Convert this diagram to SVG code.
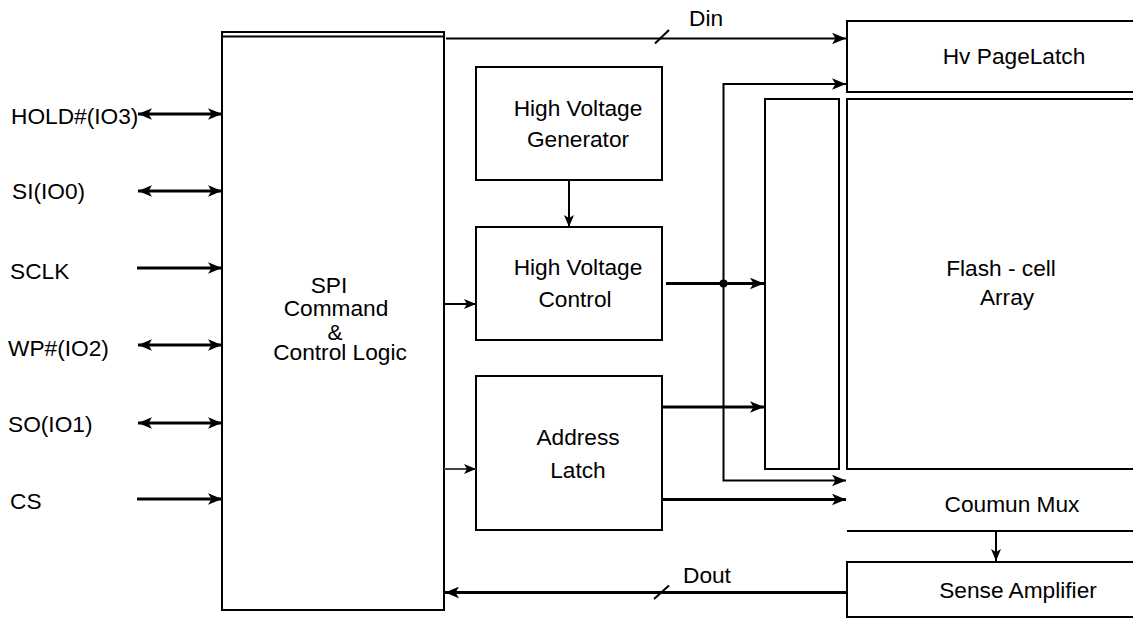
<svg xmlns="http://www.w3.org/2000/svg" width="1133" height="619" viewBox="0 0 1133 619">
<style>
text{font-family:"Liberation Sans",Arial,sans-serif;font-size:22.7px;fill:#000}
.box{fill:none;stroke:#000;stroke-width:2}
.ln{fill:none;stroke:#000;stroke-width:2}
.thk{fill:none;stroke:#000;stroke-width:3}
.gry{fill:none;stroke:#444;stroke-width:2}
</style>
<defs>
<marker id="arr" viewBox="0 0 12 10" refX="12" refY="5" markerWidth="14" markerHeight="12" orient="auto-start-reverse" markerUnits="userSpaceOnUse">
<path d="M0,0 L12,5 L0,10 L3,5 Z" fill="#000"/>
</marker>
<marker id="arrs" viewBox="0 0 12 10" refX="12" refY="5" markerWidth="12" markerHeight="10" orient="auto-start-reverse" markerUnits="userSpaceOnUse">
<path d="M0,0 L12,5 L0,10 L3,5 Z" fill="#000"/>
</marker>
</defs>

<g id="spi">
<rect class="box" x="222" y="32" width="222" height="578"/>
<line class="ln" x1="222" y1="36.5" x2="444" y2="36.5"/>
<text x="329" y="293" text-anchor="middle">SPI</text>
<text x="336" y="316" text-anchor="middle">Command</text>
<text x="335" y="340" text-anchor="middle">&amp;</text>
<text x="340" y="360" text-anchor="middle">Control Logic</text>
</g>

<g id="pins">
<text x="11" y="124">HOLD#(IO3)</text>
<text x="12" y="199">SI(IO0)</text>
<text x="10" y="279">SCLK</text>
<text x="8" y="356">WP#(IO2)</text>
<text x="8" y="432">SO(IO1)</text>
<text x="10" y="509">CS</text>
</g>

<g id="hvgen">
<rect class="box" x="476" y="67" width="186" height="113"/>
<text x="578" y="116" text-anchor="middle">High Voltage</text>
<text x="578" y="147" text-anchor="middle">Generator</text>
</g>

<g id="hvctrl">
<rect class="box" x="476" y="227" width="186" height="113"/>
<text x="578" y="275" text-anchor="middle">High Voltage</text>
<text x="575" y="307" text-anchor="middle">Control</text>
</g>

<g id="addr">
<rect class="box" x="476" y="376" width="186" height="154"/>
<text x="578" y="445" text-anchor="middle">Address</text>
<text x="578" y="478" text-anchor="middle">Latch</text>
</g>

<g id="decoder">
<rect class="box" x="765" y="99" width="74" height="370"/>
</g>

<g id="pagelatch">
<rect class="box" x="847" y="21" width="300" height="71"/>
<text x="1014" y="64" text-anchor="middle">Hv PageLatch</text>
</g>

<g id="flash">
<rect class="box" x="847" y="99" width="300" height="370"/>
<text x="1001" y="276" text-anchor="middle">Flash - cell</text>
<text x="1007" y="305" text-anchor="middle">Array</text>
</g>

<g id="colmux">
<line class="ln" x1="847" y1="531" x2="1133" y2="531"/>
<text x="1012" y="512" text-anchor="middle">Coumun Mux</text>
</g>

<g id="sense">
<rect class="box" x="847" y="562" width="300" height="55"/>
<text x="1018" y="598" text-anchor="middle">Sense Amplifier</text>
</g>

<g id="connectors">
<line class="thk" x1="138" y1="114" x2="222" y2="114" marker-start="url(#arr)" marker-end="url(#arr)"/>
<line class="thk" x1="138" y1="191" x2="222" y2="191" marker-start="url(#arr)" marker-end="url(#arr)"/>
<line class="thk" x1="137" y1="268" x2="222" y2="268" marker-end="url(#arr)"/>
<line class="thk" x1="138" y1="345" x2="222" y2="345" marker-start="url(#arr)" marker-end="url(#arr)"/>
<line class="thk" x1="138" y1="423" x2="222" y2="423" marker-start="url(#arr)" marker-end="url(#arr)"/>
<line class="thk" x1="137" y1="499" x2="222" y2="499" marker-end="url(#arr)"/>

<line class="ln" x1="446" y1="38.5" x2="846" y2="38.5" marker-end="url(#arr)"/>
<line class="ln" x1="655" y1="43.5" x2="669" y2="30"/>
<text x="689" y="26">Din</text>

<line class="ln" x1="569" y1="180" x2="569" y2="227" marker-end="url(#arrs)"/>
<line class="ln" x1="444" y1="304" x2="476" y2="304" marker-end="url(#arrs)"/>
<line class="gry" x1="444" y1="469" x2="476" y2="469" marker-end="url(#arrs)"/>

<line class="thk" x1="666" y1="283.5" x2="764" y2="283.5" marker-end="url(#arr)"/>
<circle cx="723.5" cy="283.5" r="4" fill="#000"/>
<polyline class="ln" points="846,84 723.5,84 723.5,480.5 846,480.5" marker-start="url(#arr)" marker-end="url(#arr)"/>

<line class="thk" x1="662" y1="407" x2="764" y2="407" marker-end="url(#arr)"/>
<line class="thk" x1="662" y1="499.5" x2="846" y2="499.5" marker-end="url(#arr)"/>

<line class="ln" x1="996" y1="531" x2="996" y2="561" marker-end="url(#arrs)"/>

<line class="thk" x1="847" y1="592.5" x2="445" y2="592.5" marker-end="url(#arr)"/>
<line class="ln" x1="654" y1="599" x2="669" y2="585.5"/>
<text x="683" y="583">Dout</text>
</g>
</svg>
